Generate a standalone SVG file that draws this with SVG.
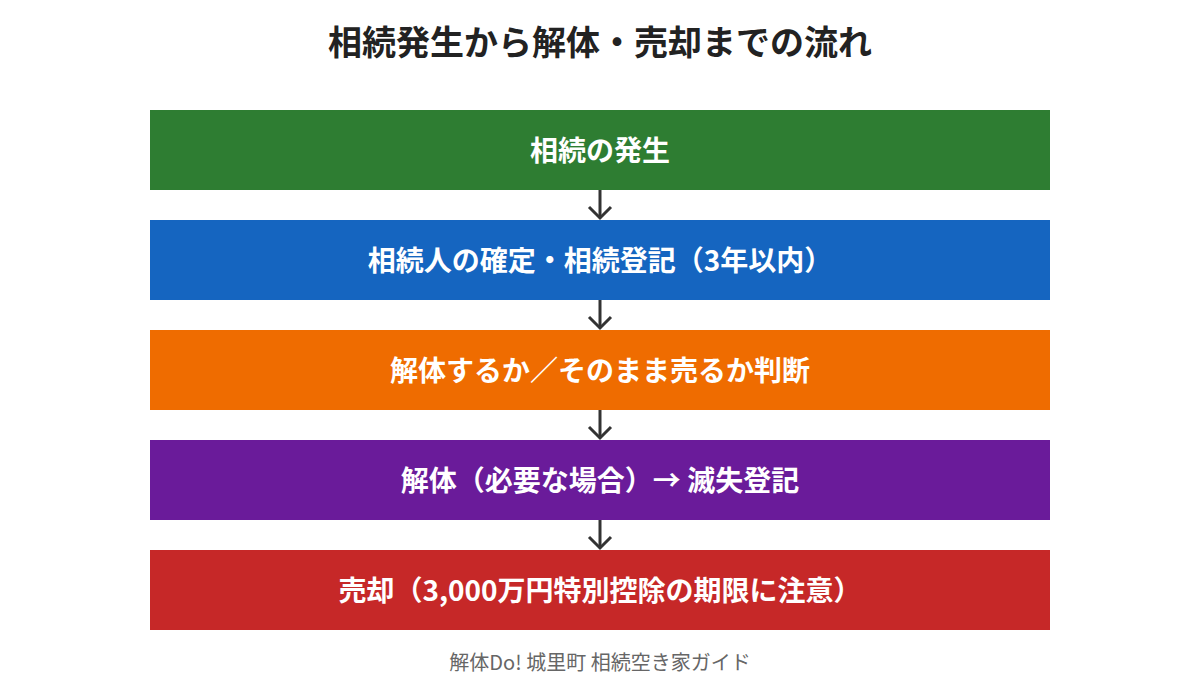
<svg xmlns="http://www.w3.org/2000/svg" width="1200" height="700" viewBox="0 0 1200 700">
  <defs>
    <style>
      .title { font-family: "Noto Sans CJK JP", "Noto Sans", sans-serif; font-size: 34px; font-weight: 700; fill: #222222; text-anchor: middle; }
      .label { font-family: "Noto Sans CJK JP", "Noto Sans", sans-serif; font-size: 28px; font-weight: 700; fill: #ffffff; text-anchor: middle; dominant-baseline: central; }
      .footer { font-family: "Noto Sans CJK JP", "Noto Sans", sans-serif; font-size: 20px; fill: #666666; text-anchor: middle; }
      .conn { stroke: #333333; stroke-width: 3; fill: none; }
    </style>
  </defs>
  <rect width="1200" height="700" fill="#ffffff"/>
  <text class="title" x="600" y="55">相続発生から解体・売却までの流れ</text>

  <g id="node1">
    <rect x="150" y="110" width="900" height="80" fill="#2E7D32"/>
    <text class="label" x="600" y="149">相続の発生</text>
  </g>
  <g id="node2">
    <rect x="150" y="220" width="900" height="80" fill="#1565C0"/>
    <text class="label" x="600" y="259">相続人の確定・相続登記（3年以内）</text>
  </g>
  <g id="node3">
    <rect x="150" y="330" width="900" height="80" fill="#EF6C00"/>
    <text class="label" x="600" y="369">解体するか／そのまま売るか判断</text>
  </g>
  <g id="node4">
    <rect x="150" y="440" width="900" height="80" fill="#6A1B9A"/>
    <text class="label" x="600" y="479">解体（必要な場合）→ 滅失登記</text>
  </g>
  <g id="node5">
    <rect x="150" y="550" width="900" height="80" fill="#C62828"/>
    <text class="label" x="600" y="589">売却（3,000万円特別控除の期限に注意）</text>
  </g>

  <g id="connectors">
    <line class="conn" x1="600" y1="190" x2="600" y2="218"/>
    <polyline class="conn" points="589,207 600,218 611,207"/>
    <line class="conn" x1="600" y1="300" x2="600" y2="328"/>
    <polyline class="conn" points="589,317 600,328 611,317"/>
    <line class="conn" x1="600" y1="410" x2="600" y2="438"/>
    <polyline class="conn" points="589,427 600,438 611,427"/>
    <line class="conn" x1="600" y1="520" x2="600" y2="548"/>
    <polyline class="conn" points="589,537 600,548 611,537"/>
  </g>

  <text class="footer" x="600" y="670">解体Do! 城里町 相続空き家ガイド</text>
</svg>
